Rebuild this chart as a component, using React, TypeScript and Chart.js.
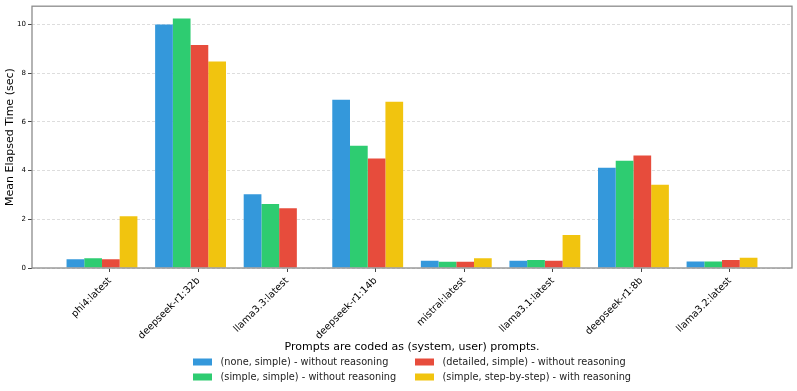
import React, { useEffect, useRef } from "react";
import { Chart, registerables } from "chart.js";

Chart.register(...registerables);

const categories = [
  "phi4:latest",
  "deepseek-r1:32b",
  "llama3.3:latest",
  "deepseek-r1:14b",
  "mistral:latest",
  "llama3.1:latest",
  "deepseek-r1:8b",
  "llama3.2:latest",
];

const noneSimple = [0.36, 10.0, 3.03, 6.91, 0.3, 0.3, 4.12, 0.27];
const simpleSimple = [0.4, 10.25, 2.63, 5.02, 0.26, 0.33, 4.4, 0.27];
const detailedSimple = [0.36, 9.16, 2.45, 4.5, 0.26, 0.3, 4.62, 0.33];
const simpleStep = [2.13, 8.48, null, 6.83, 0.4, 1.35, 3.42, 0.42];

const seriesLabels = [
  "(none, simple) - without reasoning",
  "(simple, simple) - without reasoning",
  "(detailed, simple) - without reasoning",
  "(simple, step-by-step) - with reasoning",
];
const seriesColors = ["#3498db", "#2ecc71", "#e74c3c", "#f1c40f"];
const legendTitle = "Prompts are coded as (system, user) prompts.";
const yTitle = "Mean Elapsed Time (sec)";
const yTicks = [0, 2, 4, 6, 8, 10];

const FONT = "'DejaVu Sans', sans-serif";

const frameAndLegend = {
  id: "frameAndLegend",
  afterDraw(chart: any) {
    const ctx = chart.ctx;
    const a = chart.chartArea;
    ctx.save();
    ctx.strokeStyle = "#8c8c8c";
    ctx.lineWidth = 1.3;
    ctx.strokeRect(a.left, a.top, a.right - a.left, a.bottom - a.top);

    const cx = (a.left + a.right) / 2;
    ctx.fillStyle = "#000";
    ctx.font = `11px ${FONT}`;
    ctx.textAlign = "center";
    ctx.textBaseline = "middle";
    ctx.fillText(legendTitle, cx, 347);

    const colX = [193, 415];
    const rowY = [362, 377];
    ctx.font = `9.75px ${FONT}`;
    ctx.textAlign = "left";
    seriesLabels.forEach((lab, i) => {
      const col = Math.floor(i / 2);
      const row = i % 2;
      const x = colX[col];
      const y = rowY[row];
      ctx.fillStyle = seriesColors[i];
      ctx.fillRect(x, y - 3.5, 19, 7);
      ctx.fillStyle = "#222";
      ctx.fillText(lab, x + 27.5, y);
    });
    ctx.restore();
  },
};

export default function App() {
  const ref = useRef<HTMLCanvasElement>(null);
  useEffect(() => {
    if (!ref.current) return;
    const all = [noneSimple, simpleSimple, detailedSimple, simpleStep];
    const chart = new Chart(ref.current, {
      type: "bar",
      data: {
        datasets: all.map((vals, k) => ({
          label: seriesLabels[k],
          data: vals.map((v, i) => ({ x: i, y: v })),
          backgroundColor: seriesColors[k],
          borderWidth: 0,
          categoryPercentage: 0.8,
          barPercentage: 1.0,
        })),
      },
      options: {
        responsive: false,
        animation: false,
        layout: { padding: { top: 5, right: 5, left: 0, bottom: 0 } },
        plugins: { legend: { display: false }, tooltip: { enabled: false } },
        scales: {
          x: {
            type: "linear",
            min: -0.79,
            max: 7.79,
            offset: false,
            afterBuildTicks: (scale: any) => {
              scale.ticks = categories.map((_, i) => ({ value: i + 0.09 }));
            },
            afterFit: (scale: any) => {
              scale.height = 123;
            },
            grid: {
              offset: false,
              drawOnChartArea: false,
              drawTicks: true,
              tickLength: 4,
              tickColor: "#444",
              tickWidth: 1,
              tickBorderDash: [],
            },
            border: { display: false },
            ticks: {
              autoSkip: false,
              maxRotation: 45,
              minRotation: 45,
              padding: 3,
              color: "#000",
              font: { family: FONT, size: 9.75 },
              callback: (_v: any, index: number) => categories[index],
            },
          },
          y: {
            type: "linear",
            min: 0,
            max: 10.75,
            afterBuildTicks: (scale: any) => {
              scale.ticks = yTicks.map((v) => ({ value: v }));
            },
            afterFit: (scale: any) => {
              scale.width = 32;
            },
            grid: {
              color: "#d4d4d4",
              lineWidth: 0.8,
              tickBorderDash: [],
              drawTicks: true,
              tickLength: 4,
              tickColor: "#444",
              tickWidth: 1,
            },
            border: { display: false, dash: [3, 2] },
            ticks: {
              padding: 2,
              color: "#000",
              font: { family: FONT, size: 7 },
            },
            title: {
              display: true,
              text: yTitle,
              color: "#000",
              font: { family: FONT, size: 11 },
            },
          },
        },
      },
      plugins: [frameAndLegend],
    } as any);
    return () => chart.destroy();
  }, []);
  return (
    <div style={{ position: "fixed", left: 0, top: 0, width: 797, height: 391, background: "#fff" }}>
      <canvas ref={ref} width={797} height={391} />
    </div>
  );
}
